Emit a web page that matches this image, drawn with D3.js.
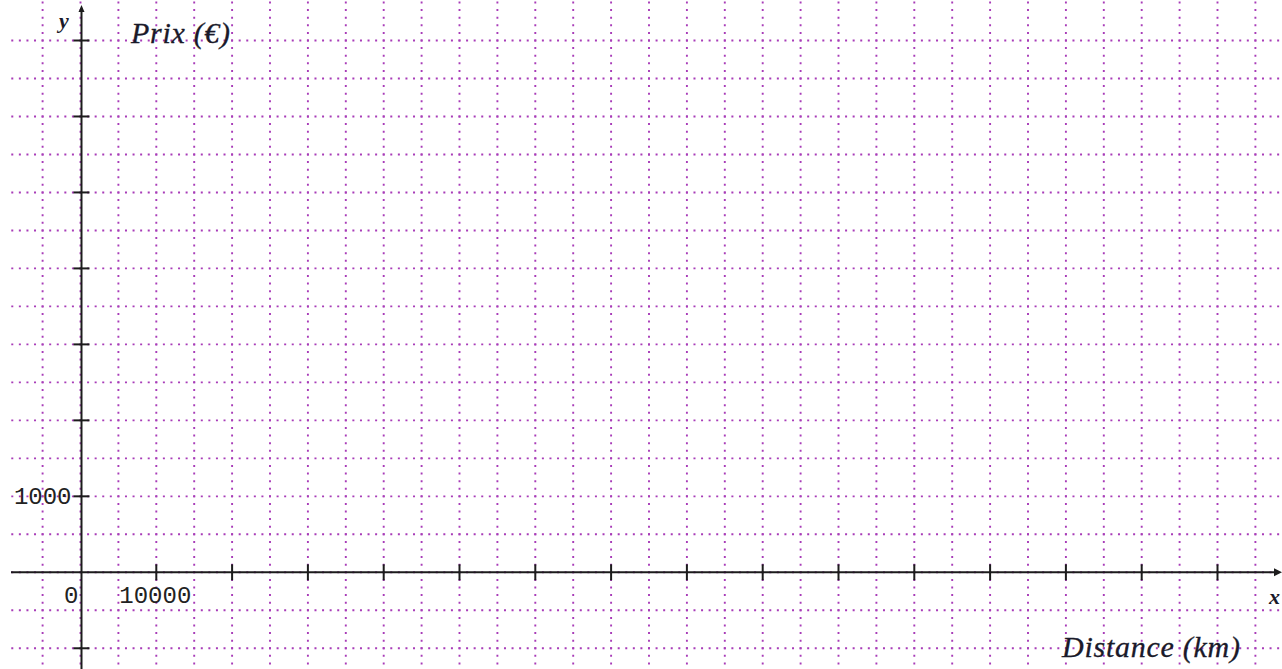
<!DOCTYPE html>
<html><head><meta charset="utf-8">
<script src="https://cdn.jsdelivr.net/npm/d3@7"></script>
<style>html,body{margin:0;padding:0;background:#fff;overflow:hidden}</style>
</head><body>
<svg id="c" width="1282" height="669"></svg>
<script>
// Data
const xTicks = [10000,20000,30000,40000,50000,60000,70000,80000,90000,100000,110000,120000,130000,140000,150000];
const yTicks = [-1000,1000,2000,3000,4000,5000,6000,7000];
const xGrid = [-5000,0,5000,10000,15000,20000,25000,30000,35000,40000,45000,50000,55000,60000,65000,70000,75000,80000,85000,90000,95000,100000,105000,110000,115000,120000,125000,130000,135000,140000,145000,150000,155000];
const yGrid = [-1500,-1000,-500,0,500,1000,1500,2000,2500,3000,3500,4000,4500,5000,5500,6000,6500,7000];
const xLabels = [{v:0,t:"0"},{v:10000,t:"10000"}];
const yLabels = [{v:1000,t:"1000"}];
const xTitle = "Distance (km)", yTitle = "Prix (€)";

const W=1282,H=669;
const svg=d3.select("#c");
const x=d3.scaleLinear().domain([0,150000]).range([80.5,1217.5]);
const y=d3.scaleLinear().domain([0,7000]).range([572.3,40.5]);

const gridCol="#a83cb8";
const px=(x(5000)-x(0))/5, py=(y(0)-y(500))/5;
// horizontal grid
svg.append("g").selectAll("line").data(yGrid).join("line")
  .attr("x1",x(-5000)-4*px-1).attr("x2",W)
  .attr("y1",d=>y(d)).attr("y2",d=>y(d))
  .attr("stroke",gridCol).attr("stroke-width",1.9)
  .attr("stroke-dasharray",`2,${px-2}`);
// vertical grid
svg.append("g").selectAll("line").data(xGrid).join("line")
  .attr("x1",d=>x(d)).attr("x2",d=>x(d))
  .attr("y1",y(7000)-5*py-1).attr("y2",H)
  .attr("stroke",gridCol).attr("stroke-width",1.9)
  .attr("stroke-dasharray",`2,${py-2}`);

const ax="#1c1c1c";
// axes
svg.append("line").attr("x1",11).attr("x2",1276).attr("y1",y(0)).attr("y2",y(0)).attr("stroke",ax).attr("stroke-width",2);
svg.append("line").attr("x1",x(0)+1).attr("x2",x(0)+1).attr("y1",10).attr("y2",H).attr("stroke",ax).attr("stroke-width",2);
// arrows
svg.append("path").attr("d",`M${1282},${y(0)} l-8,-4 l0,8 z`).attr("fill",ax);
svg.append("path").attr("d",`M${x(0)+1},5 l-3,7 l6,0 z`).attr("fill",ax);
// ticks
svg.append("g").selectAll("line").data(xTicks).join("line")
  .attr("x1",d=>x(d)).attr("x2",d=>x(d)).attr("y1",y(0)-8).attr("y2",y(0)+8)
  .attr("stroke",ax).attr("stroke-width",2);
svg.append("g").selectAll("line").data(yTicks).join("line")
  .attr("x1",x(0)-7).attr("x2",x(0)+9).attr("y1",d=>y(d)).attr("y2",d=>y(d))
  .attr("stroke",ax).attr("stroke-width",2);

// tick labels
const mono="'Liberation Mono','DejaVu Sans Mono',monospace";
svg.append("g").selectAll("text").data(xLabels).join("text")
  .attr("x",d=>d.v===0?x(0)-2:x(d.v)-1).attr("y",y(0)+31)
  .attr("text-anchor",d=>d.v===0?"end":"middle")
  .attr("font-family",mono).attr("font-size",24).attr("fill","#222")
  .text(d=>d.t);
svg.append("g").selectAll("text").data(yLabels).join("text")
  .attr("x",x(0)-9).attr("y",d=>y(d.v)+8)
  .attr("text-anchor","end")
  .attr("font-family",mono).attr("font-size",24).attr("fill","#222")
  .text(d=>d.t);

// titles
const serif="'Liberation Serif','Times New Roman',serif";
svg.append("text").attr("x",131).attr("y",43).attr("font-family",serif).attr("font-style","italic")
  .attr("font-size",30).attr("fill","#1a1a2a").attr("stroke","#1a1a2a").attr("stroke-width",0.3)
  .attr("textLength",99).attr("lengthAdjust","spacing").text(yTitle);
svg.append("text").attr("x",1062).attr("y",657).attr("font-family",serif).attr("font-style","italic")
  .attr("font-size",30).attr("fill","#1a1a2a").attr("stroke","#1a1a2a").attr("stroke-width",0.3)
  .attr("textLength",178).attr("lengthAdjust","spacing").text(xTitle);
svg.append("text").attr("x",59).attr("y",28).attr("font-family",serif).attr("font-style","italic").attr("font-weight","bold")
  .attr("font-size",22).attr("fill","#1a1a2a").text("y");
svg.append("text").attr("x",1269).attr("y",604).attr("font-family",serif).attr("font-style","italic").attr("font-weight","bold")
  .attr("font-size",22).attr("fill","#1a1a2a").text("x");
</script>
</body></html>
